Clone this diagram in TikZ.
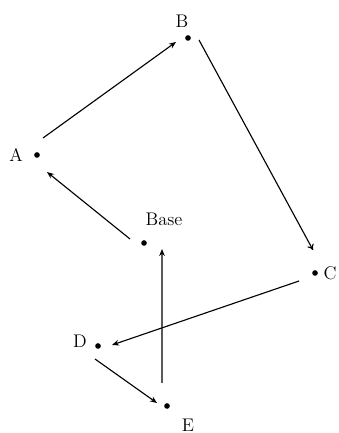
\documentclass[tikz,border=0pt]{standalone}
\usepackage{tikz}
\usetikzlibrary{arrows.meta}

\begin{document}
\begin{tikzpicture}[>={Stealth[length=5pt,width=4pt]},line width=0.8pt,
  pt/.style={circle,fill,inner sep=0pt,minimum size=4pt},
  lab/.style={font=\fontsize{13}{15}\selectfont}]
\useasboundingbox (0,0) rectangle (8.45,10.825);
\node[pt] (A) at (0.925,6.95) {};
\node[pt] (B) at (4.7,9.875) {};
\node[pt] (C) at (7.875,4.0) {};
\node[pt] (Base) at (3.6,4.75) {};
\node[pt] (D) at (2.45,2.175) {};
\node[pt] (E) at (4.175,0.675) {};
\node[lab] (lA) at (0.4,6.95) {A};
\node[lab] (lB) at (4.55,10.3) {B};
\node[lab] (lC) at (8.25,4.0) {C};
\node[lab] (lBase) at (4.1,5.33) {Base};
\node[lab] (lD) at (2.0,2.3) {D};
\node[lab] (lE) at (4.7,0.2) {E};
\draw[->] ([shift={(0.15,0.425)}]A.center) -- ([shift={(-0.3,-0.1)}]B.center);
\draw[-{To[length=4pt,width=5pt]}] ([shift={(0.275,-0.05)}]B.center) -- ([shift={(-0.05,0.575)}]C.center);
\draw[->] ([shift={(-0.35,0.1)}]Base.center) -- ([shift={(0.25,-0.425)}]A.center);
\draw[->] ([shift={(-0.125,0.575)}]E.center) -- ([shift={(0.45,-0.15)}]Base.center);
\draw[->] ([shift={(-0.4,-0.2)}]C.center) -- ([shift={(0.35,0.025)}]D.center);
\draw[->] ([shift={(-0.075,-0.325)}]D.center) -- ([shift={(-0.25,0.075)}]E.center);
\end{tikzpicture}
\end{document}
